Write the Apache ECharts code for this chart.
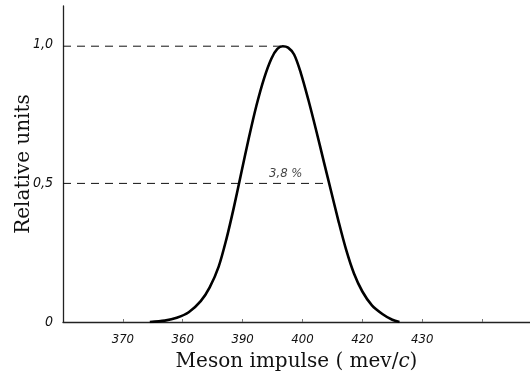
<!DOCTYPE html>
<html>
<head>
<meta charset="utf-8">
<script src="https://cdn.jsdelivr.net/npm/echarts@6/dist/echarts.min.js"></script>
<style>
  html, body { margin: 0; padding: 0; background: #fff; }
  #chart { width: 530px; height: 377px; }
</style>
</head>
<body>
<div id="chart"></div>
<script>
// Curve: momentum (mev/c) and relative intensity
const impulse = [374.5, 377.0, 379.0, 381.0, 383.0, 384.5, 386.0, 387.3, 388.5, 389.7, 391.0, 392.3, 393.6, 394.8,
  395.8, 396.7, 397.6, 398.6, 399.7, 401.0, 402.3, 403.6, 404.8, 406.0, 407.3, 408.6, 410.0, 411.6, 413.4, 415.0, 416.2];
const intensity = [0, 0.005, 0.015, 0.035, 0.075, 0.125, 0.2, 0.3, 0.41, 0.53, 0.66, 0.78, 0.88, 0.95,
  0.985, 0.995, 0.99, 0.965, 0.9, 0.8, 0.69, 0.575, 0.47, 0.365, 0.26, 0.175, 0.11, 0.06, 0.028, 0.008, 0];

// Tick positions and the labels as printed on the figure
const xTicks = [370, 380, 390, 400, 410, 420];
const xTickLabels = ['370', '360', '390', '400', '420', '430'];
const yTickLabels = { 0: '0', 0.5: '0,5', 1: '1,0' };

// Dashed guide lines (from y-axis to the curve)
const peakGuide = [[360, 0.995], [396.7, 0.995]];
const halfGuide = [[360, 0.5], [404.5, 0.5]];
const widthNote = { x: 397.2, y: 0.535, text: '3,8 %' };

const chart = echarts.init(document.getElementById('chart'), null, { renderer: 'canvas' });

const tickFont = {
  color: '#111',
  fontSize: 13,
  fontStyle: 'italic',
  fontFamily: '"Liberation Sans Narrow", "DejaVu Sans Condensed", sans-serif'
};
const serif = '"DejaVu Serif", "Liberation Serif", serif';

chart.setOption({
  animation: false,
  backgroundColor: '#fff',
  grid: { left: 63, right: 0, top: 6, bottom: 55, outerBoundsMode: 'none', containLabel: false },
  xAxis: {
    type: 'value',
    min: 360,
    max: 438,
    interval: 10,
    name: 'Meson impulse ( mev/{i|c})',
    nameLocation: 'middle',
    nameGap: 30,
    nameMoveOverlap: false,
    nameTextStyle: {
      color: '#111',
      fontSize: 20,
      fontFamily: serif,
      rich: {
        i: { fontSize: 20, fontStyle: 'italic', fontFamily: serif, color: '#111' }
      }
    },
    axisLine: { lineStyle: { color: '#222', width: 1.3 } },
    axisTick: { show: true, inside: true, length: 3, lineStyle: { color: '#777' } },
    splitLine: { show: false },
    axisLabel: Object.assign({
      margin: 11,
      showMinLabel: false,
      showMaxLabel: false,
      formatter: v => {
        const i = xTicks.indexOf(v);
        return i >= 0 ? xTickLabels[i] : '';
      }
    }, tickFont)
  },
  yAxis: {
    type: 'value',
    min: 0,
    max: 1.14,
    interval: 0.5,
    name: 'Relative units',
    nameLocation: 'middle',
    nameGap: 29,
    nameMoveOverlap: false,
    nameTextStyle: {
      color: '#111',
      fontSize: 20,
      fontFamily: serif
    },
    axisLine: { show: true, lineStyle: { color: '#222', width: 1.3 } },
    axisTick: { show: false },
    splitLine: { show: false },
    axisLabel: Object.assign({
      margin: 10,
      showMaxLabel: false,
      formatter: v => (v in yTickLabels ? yTickLabels[v] : '')
    }, tickFont, { fontSize: 14 })
  },
  series: [
    {
      type: 'line',
      data: impulse.map((x, i) => [x, intensity[i]]),
      smooth: 0.3,
      symbol: 'none',
      lineStyle: { color: '#000', width: 2.6 },
      z: 3
    },
    {
      type: 'line',
      data: peakGuide,
      symbol: 'none',
      lineStyle: { color: '#111', width: 1, type: [8, 6] },
      z: 2
    },
    {
      type: 'line',
      data: halfGuide,
      symbol: 'none',
      lineStyle: { color: '#111', width: 1, type: [8, 6] },
      z: 2
    },
    {
      type: 'scatter',
      data: [[widthNote.x, widthNote.y]],
      symbolSize: 0,
      label: {
        show: true,
        position: 'inside',
        formatter: widthNote.text,
        color: '#111',
        fontSize: 13,
        fontStyle: 'italic',
        fontFamily: '"Liberation Sans Narrow", "DejaVu Sans Condensed", sans-serif'
      },
      silent: true
    }
  ]
});
</script>
</body>
</html>
